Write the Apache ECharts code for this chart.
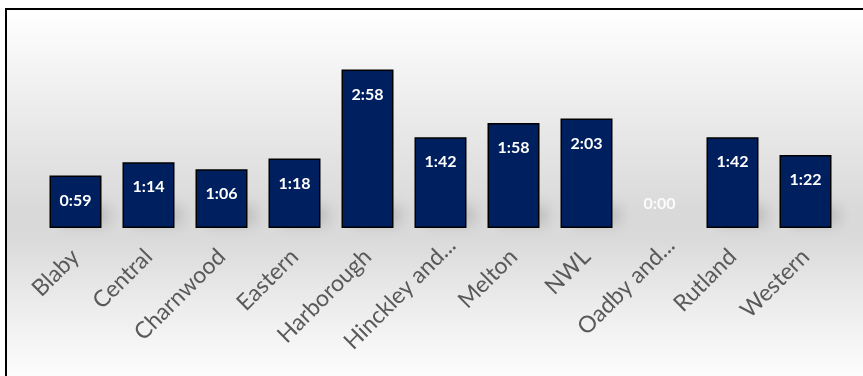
<!DOCTYPE html>
<html>
<head>
<meta charset="utf-8">
<script src="https://cdn.jsdelivr.net/npm/echarts@6/dist/echarts.min.js"></script>
<style>
  html, body { margin: 0; padding: 0; background: #ffffff; overflow: hidden; }
  #frame {
    position: absolute; left: 5px; top: 8px;
    width: 858px; height: 368px;
    border-left: 2px solid #000; border-top: 2px solid #000;
    background: linear-gradient(to bottom, #ffffff 0%, #ebebeb 28%, #d9d9d9 55%, #dadada 62%, #ececec 80%, #fdfdfd 100%);
  }
  #chart { position: absolute; left: 0; top: 0; width: 858px; height: 368px; }
</style>
</head>
<body>
<div id="frame"><div id="chart"></div></div>
<script>
// Average response time per area, in seconds
const areas = ['Blaby', 'Central', 'Charnwood', 'Eastern', 'Harborough', 'Hinckley and...',
               'Melton', 'NWL', 'Oadby and...', 'Rutland', 'Western'];
const seconds = [59, 74, 66, 78, 178, 102, 118, 123, 0, 102, 82];

const BAR_W = 52;

function mmss(s) {
  const m = Math.floor(s / 60);
  const r = s % 60;
  return m + ':' + (r < 10 ? '0' : '') + r;
}

const chart = echarts.init(document.getElementById('chart'), null, { renderer: 'canvas' });

const barData = seconds.map(function (v) {
  if (v === 0) {
    return {
      value: v,
      itemStyle: { borderWidth: 0, color: 'rgba(0,0,0,0)' },
      label: { position: 'top', distance: 16, color: 'rgba(255,255,255,0.9)' }
    };
  }
  return { value: v };
});

// Truncated names sit a little further along their slant
const categoryData = areas.map(function (name) {
  if (name.slice(-3) === '...') {
    return { value: name, textStyle: { padding: [0, -16, 0, 0] } };
  }
  return name;
});

// Soft floor shadow cast by the lower part of each bar
function renderShadow(params, api) {
  const v = api.value(1);
  if (!v) return null;
  const base = api.coord([api.value(0), 0]);
  const top = api.coord([api.value(0), v]);
  const h = Math.min(base[1] - top[1], 20);
  return {
    type: 'rect',
    shape: { x: base[0] - BAR_W / 2 + 3, y: base[1] - h, width: BAR_W - 6, height: h - 1 },
    style: {
      fill: 'rgba(0,0,0,0.35)',
      shadowColor: 'rgba(0,0,0,0.4)',
      shadowBlur: 14,
      shadowOffsetX: 10,
      shadowOffsetY: -2
    }
  };
}

chart.setOption({
  animation: false,
  grid: { left: 32, right: 23, top: 40, bottom: 150 },
  xAxis: {
    type: 'category',
    data: categoryData,
    axisLine: { show: false },
    axisTick: { show: false },
    axisLabel: {
      rotate: 45,
      interval: 0,
      margin: 25,
      color: '#595959',
      fontFamily: 'Lato',
      fontSize: 23
    }
  },
  yAxis: {
    type: 'value',
    min: 0,
    max: 200,
    show: false,
    splitLine: { show: false }
  },
  series: [{
    type: 'custom',
    renderItem: renderShadow,
    data: seconds.map(function (v, i) { return [i, v]; }),
    z: 1,
    silent: true
  }, {
    type: 'bar',
    data: barData,
    barWidth: BAR_W,
    z: 2,
    itemStyle: {
      color: '#001f5f',
      borderColor: '#000000',
      borderWidth: 1.5
    },
    label: {
      show: true,
      position: 'insideTop',
      distance: 17,
      color: '#ffffff',
      fontFamily: 'Lato',
      fontWeight: 'bold',
      fontSize: 16,
      formatter: function (p) { return mmss(p.value); }
    }
  }]
});
</script>
</body>
</html>
